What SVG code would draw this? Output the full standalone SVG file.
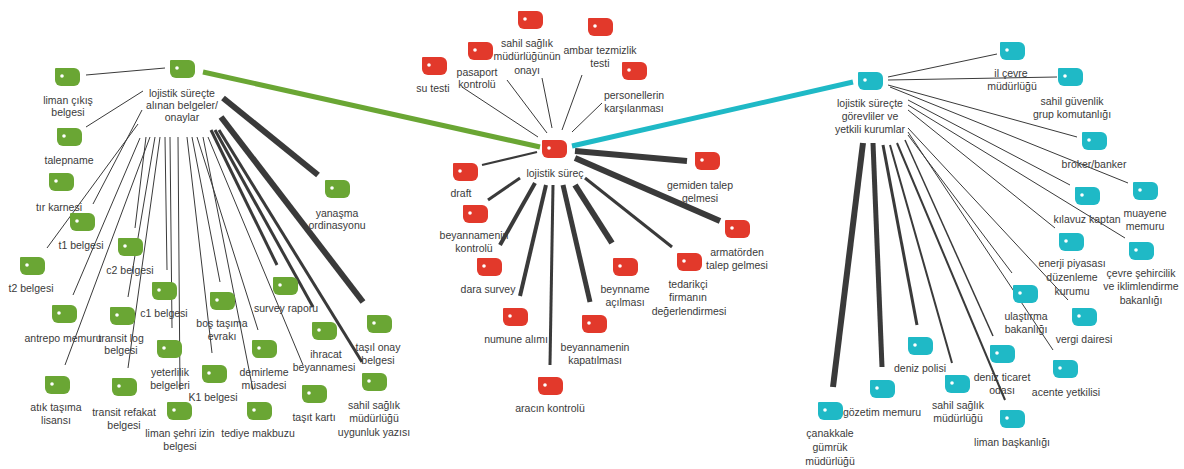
<svg xmlns="http://www.w3.org/2000/svg" xmlns:xlink="http://www.w3.org/1999/xlink" width="1184" height="469" viewBox="0 0 1184 469">
<style>
.bg{fill:#fff}
.g{fill:#6aa634}
.r{fill:#e2392b}
.t{fill:#1fb9c6}
text{font-family:"Liberation Sans",Arial,sans-serif;font-size:10.5px;fill:#3a3a3a;text-anchor:middle}
#connectors line{stroke:#3a3a3a;stroke-linecap:butt}
.w1{stroke-width:1}
.w2{stroke-width:2}
.w3{stroke-width:3}
.w4{stroke-width:4}
.w5{stroke-width:5}
.w6{stroke-width:6}
</style>
<defs>
<g id="tag"><path d="M0,1 Q0,0 1,0 H19 A6,6 0 0 1 25,6 V12 A6,6 0 0 1 19,18 H6 A6,6 0 0 1 0,12 Z"/><circle cx="7" cy="8" r="1.8" fill="#fff"/></g>
</defs>
<rect class="bg" width="1184" height="469"/>
<g id="connectors">
<line x1="203" y1="72" x2="540" y2="147" style="stroke:#6aa634" class="w5"/>
<line x1="572" y1="146" x2="853" y2="82" style="stroke:#1fb9c6" class="w5"/>
<!-- green hub -->
<line class="w1" x1="165" y1="68" x2="86" y2="75"/>
<line class="w1" x1="143" y1="91" x2="86" y2="127"/>
<line class="w1" x1="142" y1="110" x2="93" y2="204"/>
<line class="w1" x1="138" y1="124" x2="47" y2="248"/>
<line class="w1" x1="140" y1="138" x2="73" y2="295"/>
<line class="w1" x1="146" y1="137" x2="135" y2="228"/>
<line class="w1" x1="150" y1="137" x2="65" y2="365"/>
<line class="w1" x1="155" y1="137" x2="128" y2="297"/>
<line class="w1" x1="160" y1="137" x2="128" y2="368"/>
<line class="w1" x1="165" y1="137" x2="167" y2="270"/>
<line class="w1" x1="170" y1="137" x2="172" y2="328"/>
<line class="w1" x1="178" y1="137" x2="180" y2="390"/>
<line class="w1" x1="187" y1="137" x2="212" y2="353"/>
<line class="w1" x1="192" y1="137" x2="220" y2="282"/>
<line class="w1" x1="197" y1="137" x2="258" y2="330"/>
<line class="w1" x1="203" y1="137" x2="253" y2="390"/>
<line class="w1" x1="208" y1="137" x2="303" y2="365"/>
<line class="w3" x1="211" y1="130" x2="277" y2="265"/>
<line class="w3" x1="215" y1="130" x2="313" y2="307"/>
<line class="w3" x1="219" y1="130" x2="362" y2="362"/>
<line class="w6" x1="221" y1="117" x2="363" y2="302"/>
<line class="w6" x1="223" y1="98" x2="318" y2="175"/>
<!-- red hub -->
<line class="w1" x1="462" y1="87" x2="538" y2="137"/>
<line class="w1" x1="507" y1="80" x2="547" y2="133"/>
<line class="w1" x1="542" y1="78" x2="552" y2="128"/>
<line class="w1" x1="582" y1="75" x2="562" y2="130"/>
<line class="w1" x1="602" y1="103" x2="572" y2="132"/>
<line class="w6" x1="575" y1="151" x2="687" y2="161"/>
<line class="w6" x1="575" y1="158" x2="720" y2="221"/>
<line class="w2" x1="537" y1="152" x2="482" y2="165"/>
<line class="w3" x1="520" y1="178" x2="488" y2="200"/>
<line class="w4" x1="535" y1="183" x2="500" y2="245"/>
<line class="w4" x1="546" y1="185" x2="520" y2="296"/>
<line class="w3" x1="553" y1="185" x2="550" y2="365"/>
<line class="w5" x1="563" y1="185" x2="590" y2="302"/>
<line class="w6" x1="575" y1="185" x2="612" y2="243"/>
<line class="w3" x1="585" y1="178" x2="672" y2="247"/>
<!-- teal hub -->
<line class="w1" x1="888" y1="77" x2="997" y2="54"/>
<line class="w1" x1="888" y1="80" x2="1057" y2="77"/>
<line class="w1" x1="888" y1="85" x2="1077" y2="137"/>
<line class="w1" x1="890" y1="87" x2="1128" y2="183"/>
<line class="w1" x1="908" y1="100" x2="1070" y2="185"/>
<line class="w1" x1="908" y1="105" x2="1125" y2="238"/>
<line class="w1" x1="908" y1="110" x2="1055" y2="228"/>
<line class="w1" x1="908" y1="128" x2="1068" y2="300"/>
<line class="w1" x1="908" y1="132" x2="1053" y2="350"/>
<line class="w1" x1="908" y1="135" x2="1012" y2="273"/>
<line class="w1" x1="905" y1="140" x2="993" y2="336" style="stroke-width:1.5"/>
<line class="w2" x1="897" y1="143" x2="1005" y2="400"/>
<line class="w2" x1="890" y1="145" x2="952" y2="363"/>
<line class="w3" x1="883" y1="145" x2="917" y2="325"/>
<line class="w5" x1="873" y1="143" x2="882" y2="367"/>
<line class="w6" x1="863" y1="143" x2="833" y2="387"/>
</g>
<!-- green nodes -->
<g id="n-hub-belgeler"><use href="#tag" class="g" x="170" y="60"/><text x="182" y="97">lojistik süreçte<tspan x="182" dy="12">alınan belgeler/</tspan><tspan x="182" dy="12">onaylar</tspan></text></g>
<g id="n-liman-cikis"><use href="#tag" class="g" x="55" y="68"/><text x="68" y="104">liman çıkış<tspan x="68" dy="12">belgesi</tspan></text></g>
<g id="n-talepname"><use href="#tag" class="g" x="57" y="128"/><text x="69" y="164">talepname</text></g>
<g id="n-tir-karnesi"><use href="#tag" class="g" x="49" y="173"/><text x="59" y="211">tır karnesi</text></g>
<g id="n-t1"><use href="#tag" class="g" x="70" y="213"/><text x="81" y="249">t1 belgesi</text></g>
<g id="n-c2"><use href="#tag" class="g" x="118" y="238"/><text x="130" y="274">c2 belgesi</text></g>
<g id="n-t2"><use href="#tag" class="g" x="20" y="257"/><text x="31" y="292">t2 belgesi</text></g>
<g id="n-antrepo"><use href="#tag" class="g" x="52" y="305"/><text x="63" y="342">antrepo memuru</text></g>
<g id="n-transit-log"><use href="#tag" class="g" x="110" y="307"/><text x="121" y="342">transit log<tspan x="121" dy="12">belgesi</tspan></text></g>
<g id="n-c1"><use href="#tag" class="g" x="152" y="282"/><text x="164" y="317">c1 belgesi</text></g>
<g id="n-yeterlilik"><use href="#tag" class="g" x="157" y="340"/><text x="170" y="376">yeterlilik<tspan x="170" dy="13">belgeleri</tspan></text></g>
<g id="n-atik"><use href="#tag" class="g" x="45" y="376"/><text x="56" y="411">atık taşıma<tspan x="56" dy="13">lisansı</tspan></text></g>
<g id="n-transit-refakat"><use href="#tag" class="g" x="112" y="378"/><text x="124" y="416">transit refakat<tspan x="124" dy="13">belgesi</tspan></text></g>
<g id="n-liman-sehri"><use href="#tag" class="g" x="167" y="402"/><text x="180" y="437">liman şehri izin<tspan x="180" dy="13">belgesi</tspan></text></g>
<g id="n-k1"><use href="#tag" class="g" x="202" y="365"/><text x="213" y="401">K1 belgesi</text></g>
<g id="n-bos-tasima"><use href="#tag" class="g" x="210" y="292"/><text x="222" y="327">boş taşıma<tspan x="222" dy="13">evrakı</tspan></text></g>
<g id="n-demirleme"><use href="#tag" class="g" x="252" y="340"/><text x="264" y="376">demirleme<tspan x="264" dy="13">müsadesi</tspan></text></g>
<g id="n-tediye"><use href="#tag" class="g" x="247" y="402"/><text x="258" y="437">tediye makbuzu</text></g>
<g id="n-survey"><use href="#tag" class="g" x="273" y="277"/><text x="286" y="312">survey raporu</text></g>
<g id="n-ihracat"><use href="#tag" class="g" x="312" y="322"/><text x="326" y="358">ihracat<tspan x="324" dy="13">beyannamesi</tspan></text></g>
<g id="n-tasit-karti"><use href="#tag" class="g" x="302" y="385"/><text x="314" y="421">taşıt kartı</text></g>
<g id="n-tasil-onay"><use href="#tag" class="g" x="367" y="315"/><text x="378" y="351">taşıl onay<tspan x="378" dy="13">belgesi</tspan></text></g>
<g id="n-sahil-uygunluk"><use href="#tag" class="g" x="362" y="373"/><text x="374" y="409">sahil sağlık<tspan x="374" dy="13">müdürlüğü</tspan><tspan x="374" dy="14">uygunluk yazısı</tspan></text></g>
<g id="n-yanasma"><use href="#tag" class="g" x="325" y="180"/><text x="337" y="217">yanaşma<tspan x="337" dy="12">ordinasyonu</tspan></text></g>
<!-- red nodes -->
<g id="n-hub-surec"><use href="#tag" class="r" x="542" y="140"/><text x="555" y="177">lojistik süreç</text></g>
<g id="n-su-testi"><use href="#tag" class="r" x="422" y="57"/><text x="433" y="92">su testi</text></g>
<g id="n-pasaport"><use href="#tag" class="r" x="468" y="42"/><text x="477" y="76">pasaport<tspan x="477" dy="12">kontrolü</tspan></text></g>
<g id="n-sahil-onay"><use href="#tag" class="r" x="518" y="11"/><text x="527" y="47">sahil sağlık<tspan x="527" dy="13">müdürlüğünün</tspan><tspan x="527" dy="14">onayı</tspan></text></g>
<g id="n-ambar"><use href="#tag" class="r" x="588" y="18"/><text x="600" y="54">ambar tezmizlik<tspan x="600" dy="13">testi</tspan></text></g>
<g id="n-personel"><use href="#tag" class="r" x="622" y="62"/><text x="634" y="99">personellerin<tspan x="634" dy="13">karşılanması</tspan></text></g>
<g id="n-gemiden"><use href="#tag" class="r" x="695" y="152"/><text x="700" y="189">gemiden talep<tspan x="700" dy="13">gelmesi</tspan></text></g>
<g id="n-armator"><use href="#tag" class="r" x="725" y="220"/><text x="737" y="256">armatörden<tspan x="737" dy="13">talep gelmesi</tspan></text></g>
<g id="n-draft"><use href="#tag" class="r" x="453" y="163"/><text x="461" y="197">draft</text></g>
<g id="n-beyan-kontrol"><use href="#tag" class="r" x="463" y="205"/><text x="474" y="239">beyannamenin<tspan x="474" dy="13">kontrolü</tspan></text></g>
<g id="n-dara"><use href="#tag" class="r" x="477" y="258"/><text x="488" y="293">dara survey</text></g>
<g id="n-numune"><use href="#tag" class="r" x="503" y="308"/><text x="516" y="343">numune alımı</text></g>
<g id="n-aracin"><use href="#tag" class="r" x="538" y="377"/><text x="550" y="412">aracın kontrolü</text></g>
<g id="n-kapatilmasi"><use href="#tag" class="r" x="582" y="315"/><text x="595" y="351">beyannamenin<tspan x="595" dy="13">kapatılması</tspan></text></g>
<g id="n-beynname"><use href="#tag" class="r" x="613" y="258"/><text x="625" y="293">beynname<tspan x="625" dy="13">açılması</tspan></text></g>
<g id="n-tedarikci"><use href="#tag" class="r" x="677" y="253"/><text x="688" y="288">tedarikçi<tspan x="688" dy="13">firmanın</tspan><tspan x="689" dy="14">değerlendirmesi</tspan></text></g>
<!-- teal nodes -->
<g id="n-hub-kurumlar"><use href="#tag" class="t" x="858" y="72"/><text x="870" y="107">lojistik süreçte<tspan x="870" dy="13">görevliler ve</tspan><tspan x="870" dy="13">yetkili kurumlar</tspan></text></g>
<g id="n-il-cevre"><use href="#tag" class="t" x="1000" y="42"/><text x="1011" y="77">il çevre<tspan x="1012" dy="13">müdürlüğü</tspan></text></g>
<g id="n-sahil-guvenlik"><use href="#tag" class="t" x="1058" y="68"/><text x="1072" y="105">sahil güvenlik<tspan x="1072" dy="13">grup komutanlığı</tspan></text></g>
<g id="n-broker"><use href="#tag" class="t" x="1082" y="132"/><text x="1094" y="168">broker/banker</text></g>
<g id="n-muayene"><use href="#tag" class="t" x="1133" y="182"/><text x="1145" y="217">muayene<tspan x="1145" dy="13">memuru</tspan></text></g>
<g id="n-kilavuz"><use href="#tag" class="t" x="1075" y="187"/><text x="1087" y="223">kılavuz kaptan</text></g>
<g id="n-enerji"><use href="#tag" class="t" x="1059" y="233"/><text x="1072" y="267">enerji piyasası<tspan x="1072" dy="14">düzenleme</tspan><tspan x="1072" dy="14">kurumu</tspan></text></g>
<g id="n-cevre-sehircilik"><use href="#tag" class="t" x="1129" y="242"/><text x="1141" y="277">çevre şehircilik<tspan x="1141" dy="13">ve iklimlendirme</tspan><tspan x="1141" dy="14">bakanlığı</tspan></text></g>
<g id="n-ulastirma"><use href="#tag" class="t" x="1013" y="285"/><text x="1026" y="320">ulaştırma<tspan x="1026" dy="13">bakanlığı</tspan></text></g>
<g id="n-vergi"><use href="#tag" class="t" x="1072" y="308"/><text x="1084" y="343">vergi dairesi</text></g>
<g id="n-acente"><use href="#tag" class="t" x="1053" y="360"/><text x="1066" y="396">acente yetkilisi</text></g>
<g id="n-ticaret"><use href="#tag" class="t" x="990" y="345"/><text x="1002" y="381">deniz ticaret<tspan x="1002" dy="13">odası</tspan></text></g>
<g id="n-liman-baskanligi"><use href="#tag" class="t" x="1000" y="410"/><text x="1012" y="446">liman başkanlığı</text></g>
<g id="n-sahil-saglik"><use href="#tag" class="t" x="945" y="375"/><text x="958" y="409">sahil sağlık<tspan x="958" dy="13">müdürlüğü</tspan></text></g>
<g id="n-deniz-polisi"><use href="#tag" class="t" x="908" y="337"/><text x="920" y="372">deniz polisi</text></g>
<g id="n-gozetim"><use href="#tag" class="t" x="870" y="380"/><text x="882" y="416">gözetim memuru</text></g>
<g id="n-canakkale"><use href="#tag" class="t" x="818" y="402"/><text x="830" y="437">çanakkale<tspan x="830" dy="14">gümrük</tspan><tspan x="830" dy="14">müdürlüğü</tspan></text></g>
</svg>
